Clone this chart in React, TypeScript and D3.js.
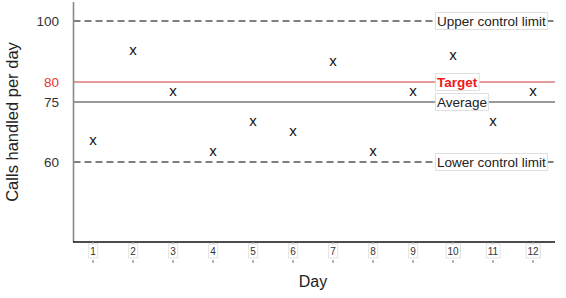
import React, { useEffect, useRef } from "react";
import * as d3 from "d3";

const days = [1, 2, 3, 4, 5, 6, 7, 8, 9, 10, 11, 12];
const calls = [65.25, 90.2, 77.5, 62.5, 70, 67.5, 86.6, 62.5, 77.5, 88.5, 70, 77.5];
const yTicks = [100, 80, 75, 60];
const refValues = [100, 80, 75, 60];
const refLabels = ["Upper control limit", "Target", "Average", "Lower control limit"];
const yTitle = "Calls handled per day";
const xTitle = "Day";

const W = 566;
const H = 298;
const FONT = "'Liberation Sans', Arial, Helvetica, sans-serif";

export default function App() {
  const ref = useRef<SVGSVGElement | null>(null);

  useEffect(() => {
    const svg = d3.select(ref.current);
    svg.selectAll("*").remove();

    const left = 73.5;
    const right = 555;
    const bottom = 242;

    const x = d3.scaleBand<number>().domain(days).range([73, 553]);
    const xc = (d: number) => (x(d) as number) + x.bandwidth() / 2;
    // piecewise-linear value axis (as spaced in the reference)
    const y = d3
      .scaleLinear()
      .domain([40, 60, 75, 80, 100, 106.3])
      .range([242, 162, 102, 82, 21, 2]);

    const g = svg.append("g").attr("font-family", FONT);

    // reference lines
    const styles = [
      { stroke: "#555", width: 1.3, dash: "7,4" },
      { stroke: "#e39a9a", width: 2, dash: null },
      { stroke: "#9a9a9a", width: 2, dash: null },
      { stroke: "#555", width: 1.3, dash: "7,4" },
    ];
    refValues.forEach((v, i) => {
      const s = styles[i];
      const ln = g
        .append("line")
        .attr("x1", left)
        .attr("x2", right)
        .attr("y1", y(v))
        .attr("y2", y(v))
        .attr("stroke", s.stroke)
        .attr("stroke-width", s.width);
      if (s.dash) ln.attr("stroke-dasharray", s.dash);
    });

    // y axis line
    g.append("line")
      .attr("x1", left)
      .attr("x2", left)
      .attr("y1", 2)
      .attr("y2", bottom)
      .attr("stroke", "#8a8a8a")
      .attr("stroke-width", 1.6);

    // x axis line
    g.append("line")
      .attr("x1", 73)
      .attr("x2", right)
      .attr("y1", bottom)
      .attr("y2", bottom)
      .attr("stroke", "#111")
      .attr("stroke-width", 1.3);

    // y tick labels
    yTicks.forEach((v) => {
      g.append("text")
        .attr("x", 59)
        .attr("y", y(v))
        .attr("dy", "0.35em")
        .attr("text-anchor", "end")
        .attr("font-size", 13.5)
        .attr("fill", v === 80 ? "#e8322f" : "#333")
        .text(String(v));
    });

    // reference labels with boxes
    refLabels.forEach((lab, i) => {
      const v = refValues[i];
      const lg = g.append("g");
      const rect = lg.append("rect");
      const t = lg
        .append("text")
        .attr("x", 437)
        .attr("y", y(v))
        .attr("dy", "0.35em")
        .attr("font-size", 13.5)
        .attr("font-weight", i === 1 ? "bold" : "normal")
        .attr("fill", i === 1 ? "#f01818" : "#222")
        .text(lab);
      const bb = (t.node() as SVGTextElement).getBBox();
      rect
        .attr("x", bb.x - 1.5)
        .attr("y", y(v) - 8.5)
        .attr("width", bb.width + 3)
        .attr("height", 17)
        .attr("fill", "#fff")
        .attr("stroke", "#e0e0e0")
        .attr("stroke-width", 1);
    });

    // x ticks
    days.forEach((d) => {
      const cx = xc(d);
      g.append("line")
        .attr("x1", cx)
        .attr("x2", cx)
        .attr("y1", bottom)
        .attr("y2", 263)
        .attr("stroke", "#999")
        .attr("stroke-width", 1.4)
        .attr("stroke-dasharray", "3,3");
      const tg = g.append("g");
      const r = tg.append("rect");
      const t = tg
        .append("text")
        .attr("x", cx)
        .attr("y", 251)
        .attr("dy", "0.35em")
        .attr("text-anchor", "middle")
        .attr("font-size", 10)
        .attr("fill", "#333")
        .text(String(d));
      const bb = (t.node() as SVGTextElement).getBBox();
      r.attr("x", bb.x - 1.5)
        .attr("y", 244)
        .attr("width", bb.width + 3)
        .attr("height", 14)
        .attr("fill", "#fff")
        .attr("stroke", "#e2e2e2")
        .attr("stroke-width", 1);
    });

    // markers
    g.selectAll("text.mark")
      .data(days.map((d, i) => ({ d, v: calls[i] })))
      .enter()
      .append("text")
      .attr("class", "mark")
      .attr("x", (p) => xc(p.d))
      .attr("y", (p) => y(p.v))
      .attr("dy", "0.27em")
      .attr("text-anchor", "middle")
      .attr("font-size", 15)
      .attr("fill", "#111")
      .text("x");

    // axis titles
    g.append("text")
      .attr("transform", `translate(18,122) rotate(-90)`)
      .attr("text-anchor", "middle")
      .attr("font-size", 16.5)
      .attr("fill", "#222")
      .text(yTitle);

    g.append("text")
      .attr("x", 313)
      .attr("y", 287)
      .attr("text-anchor", "middle")
      .attr("font-size", 16)
      .attr("fill", "#222")
      .text(xTitle);
  }, []);

  return (
    <svg
      ref={ref}
      width={W}
      height={H}
      style={{ position: "absolute", left: 0, top: 0, background: "#fff" }}
    />
  );
}
